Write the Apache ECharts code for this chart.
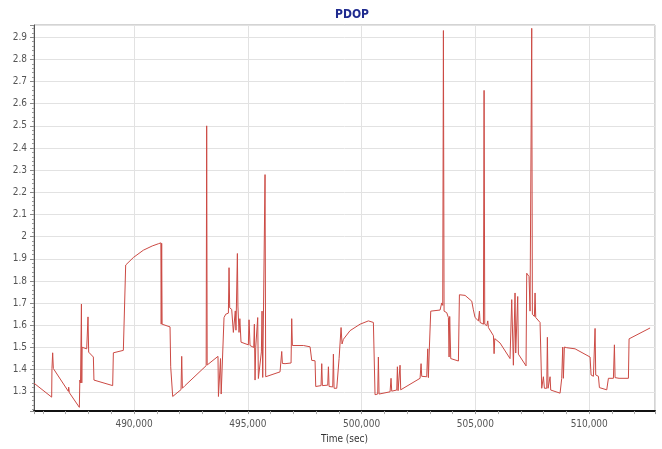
<!DOCTYPE html>
<html>
<head>
<meta charset="utf-8">
<script src="https://cdn.jsdelivr.net/npm/echarts@6/dist/echarts.min.js"></script>
<style>
html,body{margin:0;padding:0;background:#fff;}
#chart{width:662px;height:449px;}
</style>
</head>
<body>
<div id="chart"></div>
<script>
// Time (sec)
const timeSec = [
485606,486382,486395,486426,486456,487115,487130,487160,487598,487620,487650,487690,487705,487720,
487921,487950,487979,488008,488214,488240,489063,489093,489532,489561,489634,489972,490411,490800,
491070,491180,491195,491215,491235,491583,491612,491700,492066,492096,492125,492241,
493170,493193,493215,493690,493710,493780,493800,493830,493900,493955,494028,494146,494175,494204,
494292,494340,494365,494420,494450,494480,494520,494542,494565,494600,494614,494650,494702,
495024,495054,495098,495260,495288,495318,495347,495405,495435,495464,495596,495625,495655,
495728,495757,495786,496416,496460,496490,496519,496636,496900,496929,496958,497442,497735,
497808,497882,497954,497984,498218,498248,498277,498511,498541,498570,498731,498760,498790,
498907,498980,499010,499097,499125,499140,499199,499492,499931,500297,500517,500561,500590,
500707,500737,500766,501250,501293,501323,501543,501572,501601,501660,501689,501718,502568,
502612,502641,502861,502905,502934,502978,503037,503447,503520,503564,503594,503623,503740,
503813,503843,503870,503916,504253,504297,504546,504839,504910,504985,505132,505176,505205,
505352,505381,505410,505498,505542,505571,505791,505820,505850,506084,506155,506521,506595,
506668,506741,506770,506829,506858,506888,507224,507254,507356,507400,507444,507474,507503,
507591,507620,507650,507840,507913,507957,507987,508031,508133,508162,508192,508250,508280,
508309,508719,508792,508836,508865,508909,509012,509378,510037,510081,510184,510257,510286,
510404,510448,510770,510843,511063,511107,511136,511312,511722,511751,512674
];
// PDOP values
const pdop = [
1.339,1.276,1.405,1.476,1.405,1.302,1.321,1.296,1.230,1.353,1.340,1.696,1.340,1.501,
1.494,1.495,1.638,1.479,1.457,1.353,1.328,1.476,1.487,1.598,1.872,1.906,1.939,1.958,
1.968,1.972,1.605,1.970,1.605,1.593,1.413,1.279,1.310,1.460,1.316,1.328,
1.418,2.500,1.421,1.460,1.279,1.285,1.450,1.290,1.285,1.635,1.650,1.655,1.860,1.679,
1.672,1.665,1.568,1.575,1.665,1.578,1.580,1.924,1.687,1.690,1.568,1.630,1.524,
1.512,1.625,1.509,1.500,1.605,1.353,1.500,1.495,1.635,1.360,1.480,1.664,1.365,
1.370,2.280,1.368,1.390,1.395,1.482,1.428,1.427,1.430,1.630,1.509,1.509,1.503,
1.442,1.437,1.440,1.324,1.328,1.427,1.328,1.330,1.413,1.324,1.322,1.470,1.316,
1.316,1.310,1.450,1.590,1.597,1.516,1.537,1.576,1.605,1.620,1.613,1.605,1.287,
1.290,1.457,1.290,1.300,1.361,1.303,1.308,1.413,1.305,1.310,1.420,1.309,1.361,
1.427,1.370,1.368,1.494,1.364,1.502,1.664,1.669,1.701,1.690,2.930,1.664,1.657,
1.635,1.457,1.640,1.450,1.439,1.738,1.735,1.709,1.670,1.635,1.620,1.664,1.613,
1.605,2.660,1.605,1.598,1.620,1.590,1.553,1.472,1.540,1.520,1.512,1.450,1.716,
1.420,1.746,1.475,1.470,1.730,1.470,1.417,1.835,1.820,1.664,1.660,2.940,1.650,
1.640,1.746,1.635,1.613,1.316,1.316,1.368,1.316,1.316,1.546,1.316,1.313,1.368,
1.308,1.294,1.361,1.502,1.361,1.502,1.499,1.494,1.457,1.376,1.370,1.586,1.376,
1.370,1.319,1.309,1.361,1.361,1.512,1.364,1.361,1.361,1.539,1.588
];
const titleText = 'PDOP';
const xAxisName = 'Time (sec)';

const seriesData = timeSec.map((t, i) => [t, pdop[i]]);
const fontFam = '"DejaVu Sans Condensed", "DejaVu Sans", sans-serif';

const chart = echarts.init(document.getElementById('chart'), null, {renderer: 'canvas'});
chart.setOption({
  animation: false,
  backgroundColor: '#ffffff',
  title: {
    text: titleText,
    left: 347,
    top: 4,
    textAlign: 'center',
    textStyle: {color: '#1f2b8f', fontWeight: 'bold', fontSize: 12, fontFamily: fontFam}
  },
  grid: {
    left: 34, right: 7, top: 25, bottom: 33,
    show: true, borderColor: '#a8a8a8', borderWidth: 1, backgroundColor: 'transparent'
  },
  xAxis: {
    type: 'value',
    min: 485606,
    max: 512890,
    splitNumber: 5,
    name: xAxisName,
    nameLocation: 'middle',
    nameGap: 22,
    nameTextStyle: {color: '#333', fontSize: 10, fontFamily: fontFam},
    axisLine: {show: true, onZero: false, lineStyle: {color: '#111', width: 2}},
    axisTick: {show: true, length: 3, lineStyle: {color: '#999'}},
    minorTick: {show: true, splitNumber: 5, length: 3, lineStyle: {color: '#aaa'}},
    axisLabel: {showMinLabel: false, showMaxLabel: false, color: '#555', fontSize: 10, fontFamily: fontFam, margin: 8},
    splitLine: {show: true, lineStyle: {color: '#e2e2e2', width: 1}}
  },
  yAxis: {
    type: 'value',
    min: 1.213,
    max: 2.955,
    splitNumber: 17,
    axisLine: {show: true, lineStyle: {color: '#555', width: 1}},
    axisTick: {show: true, length: 4, lineStyle: {color: '#888'}},
    minorTick: {show: true, splitNumber: 5, length: 2, lineStyle: {color: '#999'}},
    axisLabel: {showMinLabel: false, showMaxLabel: false, color: '#555', fontSize: 10, fontFamily: fontFam, margin: 7},
    splitLine: {show: true, lineStyle: {color: '#e2e2e2', width: 1}}
  },
  series: [{
    type: 'line',
    data: seriesData,
    showSymbol: false,
    symbol: 'none',
    lineStyle: {color: '#cc4a44', width: 1},
    itemStyle: {color: '#cc4a44'}
  }]
});
</script>
</body>
</html>
